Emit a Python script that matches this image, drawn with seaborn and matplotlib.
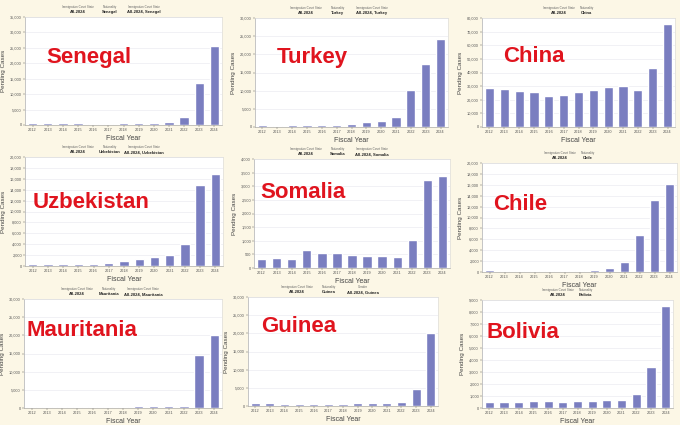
import matplotlib
matplotlib.use("Agg")
import matplotlib.pyplot as plt
from matplotlib.ticker import FuncFormatter, MultipleLocator
import seaborn as sns
import pandas as pd

# ===================== Data =====================
years = ["2012", "2013", "2014", "2015", "2016", "2017", "2018",
         "2019", "2020", "2021", "2022", "2023", "2024"]

senegal = [700, 650, 550, 500, 450, 450, 500, 550, 600, 1000, 2600, 13600, 25600]
turkey = [500, 400, 450, 450, 500, 600, 900, 1300, 1600, 2800, 10300, 17400, 24200]
china = [28500, 27800, 26500, 26000, 23000, 23200, 25500, 27500, 29500, 30300, 27000, 43500, 75500]
uzbekistan = [450, 400, 450, 450, 450, 550, 950, 1350, 1650, 2100, 4100, 14900, 16800]
somalia = [330, 370, 340, 650, 560, 540, 470, 430, 440, 410, 1010, 3230, 3380]
chile = [300, 250, 200, 200, 200, 200, 200, 300, 750, 1850, 6800, 13200, 16100]
mauritania = [300, 300, 300, 300, 300, 300, 350, 450, 550, 550, 650, 14600, 20000]
guinea = [900, 700, 550, 500, 500, 650, 650, 700, 850, 850, 1000, 4700, 20000]
bolivia = [520, 480, 460, 560, 560, 520, 570, 620, 650, 700, 1130, 3450, 8500]

countries = ["Senegal", "Turkey", "China", "Uzbekistan", "Somalia", "Chile",
             "Mauritania", "Guinea", "Bolivia"]
series = [senegal, turkey, china, uzbekistan, somalia, chile, mauritania, guinea, bolivia]
y_max = [35000, 30000, 80000, 20000, 4000, 20000, 30000, 30000, 9000]
y_step = [5000, 5000, 10000, 2000, 500, 2000, 5000, 5000, 1000]
three_col = [True, True, False, True, True, False, True, True, False]
third_label = ["Immigration Court State"] * 7 + ["Gender", "Immigration Court State"]

# ===================== Layout (pixels: left, top, right, bottom) =====================
W, H = 680, 425
axes_px = [
    (25, 17, 222, 125), (255, 18, 448, 127), (482, 18, 675, 127),
    (25, 157, 223, 266), (254, 159, 450, 268), (482, 163, 677, 272),
    (24, 299, 222, 408), (248, 297, 438, 406), (482, 300, 673, 408),
]
label_px = [(46, 57), (277, 58), (503, 57), (33, 202), (260, 193), (493, 204),
            (27, 330), (261, 326), (487, 333)]

bar_color = "#7a7ec0"
red = "#e0141e"
cream = "#fcf7e6"

sns.set_theme(style="white")
plt.rcParams["font.family"] = ["Liberation Sans", "DejaVu Sans"]

fig = plt.figure(figsize=(W / 100, H / 100), dpi=100, facecolor=cream)

for i, name in enumerate(countries):
    l, t, r, b = axes_px[i]
    ax = fig.add_axes([l / W, 1 - b / H, (r - l) / W, (b - t) / H])
    df = pd.DataFrame({"year": years, "cases": series[i]})
    sns.barplot(data=df, x="year", y="cases", color=bar_color, saturation=1,
                width=0.62, ax=ax)
    ax.set_facecolor("white")
    ax.set_ylim(0, y_max[i])
    ax.yaxis.set_major_locator(MultipleLocator(y_step[i]))
    ax.yaxis.set_major_formatter(FuncFormatter(lambda v, p: f"{int(v):,}"))
    ax.grid(axis="y", color="#ebebf2", linewidth=0.5)
    ax.set_axisbelow(True)
    ax.tick_params(axis="both", labelsize=2.8, length=1.2, width=0.3,
                   colors="#555555", pad=1)
    ax.tick_params(axis="y", left=True)
    ax.tick_params(axis="x", bottom=True)
    for s in ax.spines.values():
        s.set_color("#d8d8d8")
        s.set_linewidth(0.4)
    ax.spines["left"].set_color("#999999")
    ax.spines["bottom"].set_color("#999999")
    ax.set_xlabel("Fiscal Year", fontsize=5, color="#444444", labelpad=2)
    ax.set_ylabel("Pending Cases", fontsize=4.5, color="#444444", labelpad=3)

    # big red country label
    lx, ly = label_px[i]
    fig.text(lx / W, 1 - ly / H, name, fontsize=16, fontweight="bold",
             color=red, ha="left", va="center")

    # filter header above each chart
    cx = (l + r) / 2
    if three_col[i]:
        cols = [("Immigration Court State", "All-2024", cx - 46),
                ("Nationality", name, cx - 14),
                (third_label[i], "All-2024, " + name, cx + 20)]
    else:
        cols = [("Immigration Court State", "All-2024", cx - 20),
                ("Nationality", name, cx + 8)]
    for lab, val, x in cols:
        fig.text(x / W, 1 - (t - 10) / H, lab, fontsize=2.2, color="#666666",
                 ha="center", va="center")
        fig.text(x / W, 1 - (t - 5) / H, val, fontsize=3.0, color="#222222",
                 fontweight="bold", ha="center", va="center")

fig.savefig("out.png", dpi=100, facecolor=cream)
